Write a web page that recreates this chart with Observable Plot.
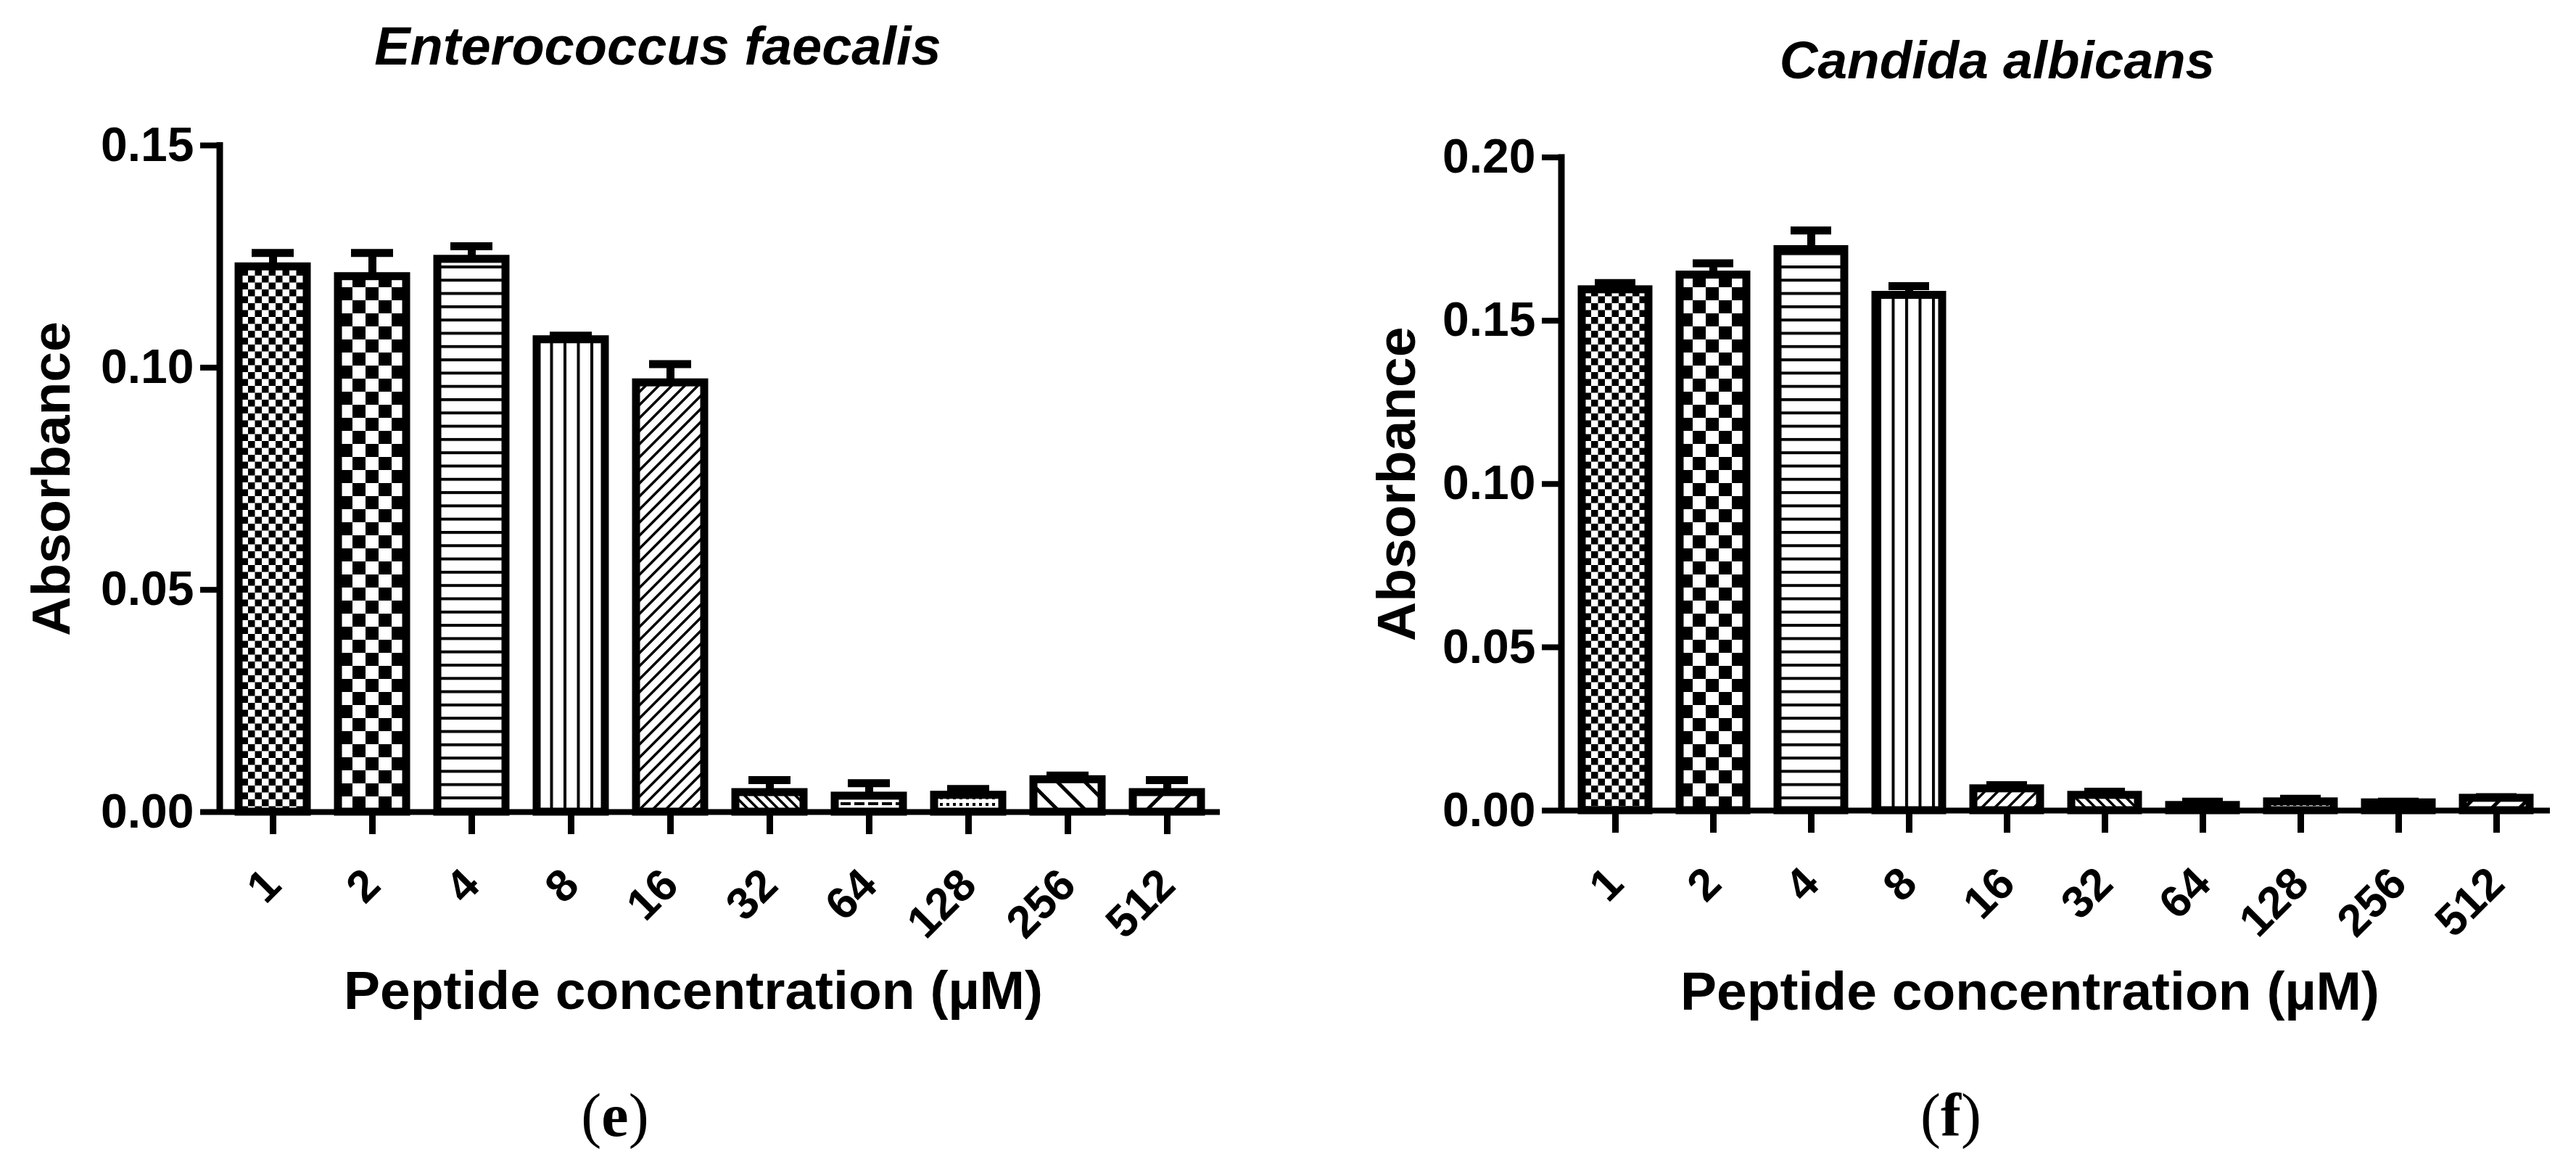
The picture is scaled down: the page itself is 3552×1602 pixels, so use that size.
<!DOCTYPE html>
<html>
<head>
<meta charset="utf-8">
<script src="https://cdn.jsdelivr.net/npm/d3@7"></script>
<script src="https://cdn.jsdelivr.net/npm/@observablehq/plot@0.6"></script>
<style>
html, body { margin: 0; padding: 0; background: #fff; }
#page { position: relative; width: 3552px; height: 1602px; overflow: hidden; background: #fff; }
.panel { position: absolute; top: 0; }
.title { position: absolute; font-family: "Liberation Sans", Arial, sans-serif; font-weight: bold; font-style: italic; line-height: 1; white-space: nowrap; transform: translateX(-50%); color: #000; }
.tag { position: absolute; font-family: "Liberation Serif", "Times New Roman", serif; font-size: 84px; line-height: 1; white-space: nowrap; transform: translateX(-50%); color: #000; }
</style>
</head>
<body>
<div id="page">
  <svg width="0" height="0" style="position:absolute;left:0;top:0">
    <defs>
      <pattern id="pat0" width="19" height="19" patternUnits="userSpaceOnUse">
        <rect width="19" height="19" fill="#fff"/>
        <rect width="9.5" height="9.5" fill="#000"/>
        <rect x="9.5" y="9.5" width="9.5" height="9.5" fill="#000"/>
      </pattern>
      <pattern id="pat1" width="36" height="36" patternUnits="userSpaceOnUse">
        <rect width="36" height="36" fill="#fff"/>
        <rect width="18" height="18" fill="#000"/>
        <rect x="18" y="18" width="18" height="18" fill="#000"/>
      </pattern>
      <pattern id="pat2" width="10" height="18.3" patternUnits="userSpaceOnUse">
        <rect width="10" height="18.3" fill="#fff"/>
        <rect width="10" height="4" fill="#000"/>
      </pattern>
      <pattern id="pat3" width="18.5" height="10" patternUnits="userSpaceOnUse">
        <rect width="18.5" height="10" fill="#fff"/>
        <rect width="4" height="10" fill="#000"/>
      </pattern>
      <pattern id="pat4" width="18" height="18" patternUnits="userSpaceOnUse">
        <rect width="18" height="18" fill="#fff"/>
        <path d="M0,18L18,0M-3,3L3,-3M15,21L21,15" stroke="#000" stroke-width="3.5"/>
      </pattern>
      <pattern id="pat5" width="14" height="14" patternUnits="userSpaceOnUse">
        <rect width="14" height="14" fill="#fff"/>
        <path d="M0,0L14,14M-3,11L3,17M11,-3L17,3" stroke="#000" stroke-width="3.5"/>
      </pattern>
      <pattern id="pat6" width="19" height="14" patternUnits="userSpaceOnUse">
        <rect width="19" height="14" fill="#fff"/>
        <rect width="14" height="4" fill="#000"/>
      </pattern>
      <pattern id="pat7" width="9" height="9" patternUnits="userSpaceOnUse">
        <rect width="9" height="9" fill="#fff"/>
        <rect width="4" height="4" fill="#000"/>
      </pattern>
      <pattern id="pat8" width="38" height="38" patternUnits="userSpaceOnUse">
        <rect width="38" height="38" fill="#fff"/>
        <path d="M0,0L38,38M-5,33L5,43M33,-5L43,5" stroke="#000" stroke-width="5"/>
      </pattern>
      <pattern id="pat9" width="38" height="38" patternUnits="userSpaceOnUse">
        <rect width="38" height="38" fill="#fff"/>
        <path d="M0,38L38,0M-5,5L5,-5M33,43L43,33" stroke="#000" stroke-width="5"/>
      </pattern>
    </defs>
  </svg>
  <div id="left" class="panel" style="left:0px"></div>
  <div id="right" class="panel" style="left:1776px"></div>
  <div class="title" style="left:907px;top:27px;font-size:74px">Enterococcus faecalis</div>
  <div class="title" style="left:2754px;top:46px;font-size:73px">Candida albicans</div>
  <div class="tag" style="left:848px;top:1496px">(<b>e</b>)</div>
  <div class="tag" style="left:2690px;top:1496px">(<b>f</b>)</div>
</div>
<script>
// ---- data ----
const concentrations = ["1", "2", "4", "8", "16", "32", "64", "128", "256", "512"];
const patternIds = ["pat0", "pat1", "pat2", "pat3", "pat4", "pat5", "pat6", "pat7", "pat8", "pat9"];

// Enterococcus faecalis (e)
const efMean = [0.1227, 0.1205, 0.1244, 0.1063, 0.0966, 0.0044, 0.0036, 0.0038, 0.0073, 0.0044];
const efSem  = [0.0031, 0.0053, 0.0029, 0.0009, 0.0042, 0.0028, 0.0029, 0.0014, 0.0009, 0.0028];
const efTicks = [0, 0.05, 0.10, 0.15];

// Candida albicans (f)
const caMean = [0.1595, 0.1640, 0.1718, 0.1578, 0.0067, 0.0047, 0.0016, 0.0027, 0.0024, 0.0038];
const caSem  = [0.0020, 0.0036, 0.0058, 0.0028, 0.0011, 0.0011, 0.0011, 0.0009, 0.0003, 0.0003];
const caTicks = [0, 0.05, 0.10, 0.15, 0.20];

const yLabel = "Absorbance";
const xLabel = "Peptide concentration (µM)";

function rowsOf(means, sems) {
  return concentrations.map((c, i) => ({
    conc: c,
    mean: means[i],
    top: means[i] + sems[i],
    pattern: `url(#${patternIds[i]})`
  }));
}

function yAxisLine(yMax) {
  return (index, scales, values, dimensions) => {
    const line = document.createElementNS("http://www.w3.org/2000/svg", "line");
    const x = dimensions.marginLeft;
    line.setAttribute("x1", x);
    line.setAttribute("x2", x);
    line.setAttribute("y1", scales.y(yMax) - 4);
    line.setAttribute("y2", scales.y(0));
    line.setAttribute("stroke", "#000");
    line.setAttribute("stroke-width", 9);
    return line;
  };
}

function panel(o) {
  const rows = rowsOf(o.means, o.sems);
  const yMax = o.ticks[o.ticks.length - 1];
  return Plot.plot({
    width: 1776,
    height: 1602,
    marginLeft: o.marginLeft,
    marginRight: o.marginRight,
    marginTop: o.marginTop,
    marginBottom: o.marginBottom,
    style: { fontFamily: '"Liberation Sans", Arial, sans-serif', color: "#000", background: "transparent", overflow: "visible" },
    x: { type: "band", domain: concentrations, paddingInner: 0.317, paddingOuter: 0.17, label: null },
    y: { domain: [0, yMax], label: null },
    color: { type: "identity" },
    marks: [
      Plot.barY(rows, { x: "conc", y: "mean", fill: "pattern", stroke: "#000", strokeWidth: 11 }),
      Plot.ruleX(rows, { x: "conc", y1: "mean", y2: "top", stroke: "#000", strokeWidth: 11 }),
      Plot.tickY(rows, { x: "conc", y: "top", stroke: "#000", strokeWidth: 11, insetLeft: 18, insetRight: 18 }),
      Plot.ruleY([0], { stroke: "#000", strokeWidth: 8 }),
      yAxisLine(yMax),
      Plot.axisY({ ticks: o.ticks, tickFormat: d3.format(".2f"), tickSize: 27, tickPadding: 9, stroke: "#000", strokeWidth: 8, fontSize: 66, fontWeight: "bold", label: null }),
      Plot.axisX({ tickSize: 31, tickPadding: 59, tickRotate: -45, stroke: "#000", strokeWidth: 9, fontSize: 62, fontWeight: "bold", label: null }),
      Plot.text([yLabel], { text: d => d, frameAnchor: "left", textAnchor: "middle", lineAnchor: "middle", rotate: -90, dx: o.yLabelDx, fontSize: 75, fontWeight: "bold", fill: "#000" }),
      Plot.text([xLabel], { text: d => d, frameAnchor: "bottom", textAnchor: "middle", lineAnchor: "bottom", dx: o.xLabelDx, dy: o.xLabelDy, fontSize: 75, fontWeight: "bold", fill: "#000" })
    ]
  });
}

document.getElementById("left").appendChild(panel({
  means: efMean, sems: efSem, ticks: efTicks,
  marginLeft: 303, marginRight: 94, marginTop: 200, marginBottom: 483,
  yLabelDx: -232, xLabelDx: -37, xLabelDy: 271
}));

document.getElementById("right").appendChild(panel({
  means: caMean, sems: caSem, ticks: caTicks,
  marginLeft: 377, marginRight: 36, marginTop: 216.5, marginBottom: 485,
  yLabelDx: -227, xLabelDx: -36, xLabelDy: 274
}));
</script>
</body>
</html>
